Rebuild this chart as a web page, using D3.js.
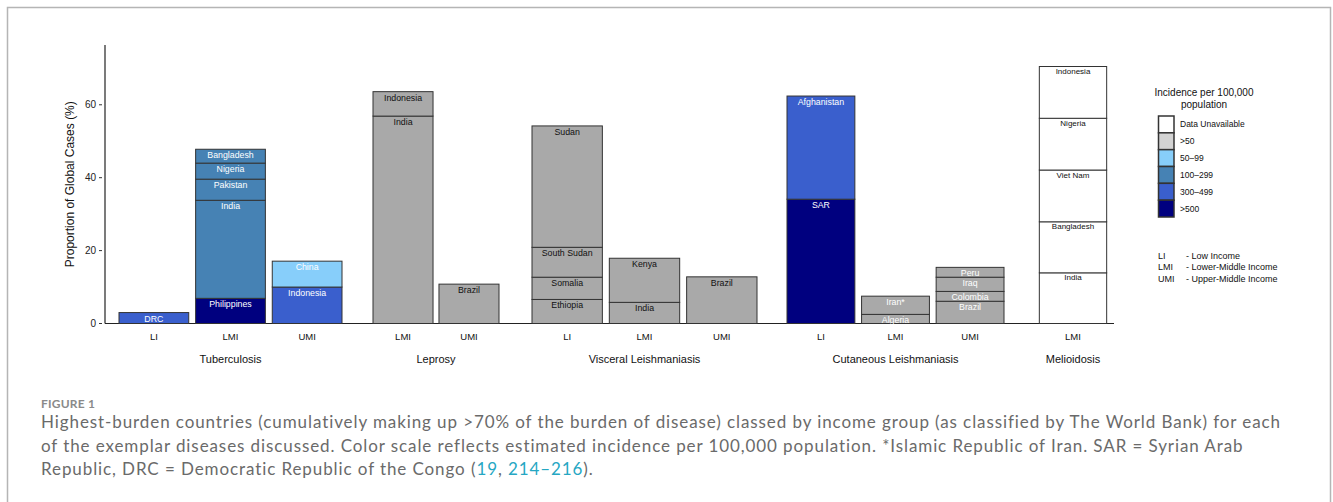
<!DOCTYPE html>
<html>
<head>
<meta charset="utf-8">
<script src="https://cdn.jsdelivr.net/npm/d3@7"></script>
<style>
  body { margin: 0; background: #fff; }
  svg { display: block; }
  .chart text { font-family: "Liberation Sans", Arial, sans-serif; }
  .chart .caption text { font-family: Lato, "Open Sans", sans-serif; }
</style>
</head>
<body>
<svg id="chart" class="chart"></svg>
<script>
// ---- data (shares of global cases, %, stacked bottom -> top) ----
const diseases = ["Tuberculosis", "Leprosy", "Visceral Leishmaniasis", "Cutaneous Leishmaniasis", "Melioidosis"];
const incomeGroups = [["LI", "LMI", "UMI"], ["LMI", "UMI"], ["LI", "LMI", "UMI"], ["LI", "LMI", "UMI"], ["LMI"]];

// [income, country, share, incidence band]
const tuberculosis = [
  ["LI", "DRC", 3.0, "300–499"],
  ["LMI", "Philippines", 6.9, ">500"],
  ["LMI", "India", 26.9, "100–299"],
  ["LMI", "Pakistan", 5.8, "100–299"],
  ["LMI", "Nigeria", 4.4, "100–299"],
  ["LMI", "Bangladesh", 3.8, "100–299"],
  ["UMI", "Indonesia", 10.0, "300–499"],
  ["UMI", "China", 7.1, "50–99"]
];
const leprosy = [
  ["LMI", "India", 56.9, ">50"],
  ["LMI", "Indonesia", 6.7, ">50"],
  ["UMI", "Brazil", 10.8, ">50"]
];
const visceral = [
  ["LI", "Ethiopia", 6.6, ">50"],
  ["LI", "Somalia", 6.1, ">50"],
  ["LI", "South Sudan", 8.2, ">50"],
  ["LI", "Sudan", 33.3, ">50"],
  ["LMI", "India", 5.8, ">50"],
  ["LMI", "Kenya", 12.1, ">50"],
  ["UMI", "Brazil", 12.8, ">50"]
];
const cutaneous = [
  ["LI", "SAR", 34.1, ">500"],
  ["LI", "Afghanistan", 28.3, "300–499"],
  ["LMI", "Algeria", 2.5, ">50"],
  ["LMI", "Iran*", 5.0, ">50"],
  ["UMI", "Brazil", 6.1, ">50"],
  ["UMI", "Colombia", 2.7, ">50"],
  ["UMI", "Iraq", 3.9, ">50"],
  ["UMI", "Peru", 2.7, ">50"]
];
const melioidosis = [
  ["LMI", "India", 13.9, "Data Unavailable"],
  ["LMI", "Bangladesh", 14.0, "Data Unavailable"],
  ["LMI", "Viet Nam", 14.2, "Data Unavailable"],
  ["LMI", "Nigeria", 14.2, "Data Unavailable"],
  ["LMI", "Indonesia", 14.2, "Data Unavailable"]
];
const diseaseSegments = [tuberculosis, leprosy, visceral, cutaneous, melioidosis];

const legendBands = ["Data Unavailable", ">50", "50–99", "100–299", "300–499", ">500"];
const yTicks = [0, 20, 40, 60];
const incomeNotes = [["LI", "- Low Income"], ["LMI", "- Lower-Middle Income"], ["UMI", "- Upper-Middle Income"]];

// ---- styles / layout ----
const bandFill = {
  "Data Unavailable": "#ffffff",
  ">50": "#a9a9a9",
  "50–99": "#87cefa",
  "100–299": "#4682b4",
  "300–499": "#3a5fcd",
  ">500": "#00007f"
};
const legendFill = Object.assign({}, bandFill, { ">50": "#d3d3d3" });

// pixel extent of each disease panel and label colour inside grey bars
const panels = [
  { x0: 119, x1: 342, label: "#fff" },
  { x0: 373, x1: 499, label: "#111" },
  { x0: 532, x1: 757, label: "#111" },
  { x0: 787, x1: 1004, label: "#fff" },
  { x0: 1036, x1: 1110, label: "#111" }
];

const W = 1333, H = 502;
const svg = d3.select("#chart").attr("width", W).attr("height", H);

// frame
svg.append("rect")
  .attr("x", 7.5).attr("y", 7.5)
  .attr("width", 1323).attr("height", 560)
  .attr("fill", "none").attr("stroke", "#b5b5b5").attr("stroke-width", 1.5);

const yScale = d3.scaleLinear().domain([0, 76.4]).range([323.5, 45]);

// y axis
const yAxisG = svg.append("g").attr("transform", "translate(105,0)");
yAxisG.append("line")
  .attr("y1", yScale(0)).attr("y2", yScale.range()[1])
  .attr("stroke", "#222").attr("stroke-width", 1.2);
const yt = yAxisG.selectAll(".ytick").data(yTicks).join("g")
  .attr("transform", d => `translate(0,${yScale(d)})`);
yt.append("line").attr("x1", -6).attr("x2", -3).attr("stroke", "#333");
yt.append("text")
  .attr("x", -9).attr("dy", "0.35em")
  .attr("text-anchor", "end")
  .attr("font-size", 10).attr("fill", "#222")
  .text(d => d);

svg.append("text")
  .attr("transform", `translate(74,${(yScale(0) + yScale.range()[1]) / 2}) rotate(-90)`)
  .attr("text-anchor", "middle")
  .attr("font-size", 12).attr("fill", "#111")
  .text("Proportion of Global Cases (%)");

// baseline
svg.append("line")
  .attr("x1", 105).attr("x2", 1114)
  .attr("y1", yScale(0)).attr("y2", yScale(0))
  .attr("stroke", "#222").attr("stroke-width", 1.2);

// bars
diseases.forEach((name, i) => {
  const p = panels[i];
  const x = d3.scaleBand().domain(incomeGroups[i]).range([p.x0, p.x1]).paddingInner(0.09);
  const g = svg.append("g");

  // stack per income group
  const tops = {};
  const segs = diseaseSegments[i].map(([inc, country, val, band]) => {
    const base = tops[inc] || 0;
    tops[inc] = base + val;
    return { inc, country, y0: base, y1: base + val, band };
  });

  g.selectAll("rect").data(segs).join("rect")
    .attr("x", d => x(d.inc))
    .attr("width", x.bandwidth())
    .attr("y", d => yScale(d.y1))
    .attr("height", d => yScale(d.y0) - yScale(d.y1))
    .attr("fill", d => bandFill[d.band])
    .attr("stroke", "#333").attr("stroke-width", 1);

  g.selectAll("text.seg").data(segs).join("text")
    .attr("class", "seg")
    .attr("x", d => x(d.inc) + x.bandwidth() / 2)
    .attr("y", d => yScale(d.y1) + (i === 4 ? 7.5 : 9))
    .attr("text-anchor", "middle")
    .attr("font-size", i === 4 ? 8 : 8.8)
    .attr("fill", d => (d.band === "Data Unavailable" || (d.band === ">50" && p.label !== "#fff")) ? "#111" : "#fff")
    .text(d => d.country);

  g.selectAll("text.inc").data(incomeGroups[i]).join("text")
    .attr("class", "inc")
    .attr("x", d => x(d) + x.bandwidth() / 2)
    .attr("y", 339.5)
    .attr("text-anchor", "middle")
    .attr("font-size", 9.5).attr("fill", "#111")
    .text(d => d);

  g.append("text")
    .attr("x", (p.x0 + p.x1) / 2)
    .attr("y", 363)
    .attr("text-anchor", "middle")
    .attr("font-size", 11).attr("fill", "#111")
    .text(name);
});

// legend
const lg = svg.append("g").attr("transform", "translate(1158,0)");
lg.append("text").attr("x", 46).attr("y", 95.5).attr("text-anchor", "middle")
  .attr("font-size", 10).attr("fill", "#111").text("Incidence per 100,000");
lg.append("text").attr("x", 46).attr("y", 107.5).attr("text-anchor", "middle")
  .attr("font-size", 10).attr("fill", "#111").text("population");
const ly = d3.scaleBand().domain(legendBands).range([116, 217]);
const li = lg.selectAll(".li").data(legendBands).join("g")
  .attr("transform", d => `translate(0,${ly(d)})`);
li.append("rect")
  .attr("x", 0.5).attr("width", 15.5).attr("height", ly.bandwidth())
  .attr("fill", d => legendFill[d])
  .attr("stroke", "#333").attr("stroke-width", 1.5);
li.append("text")
  .attr("x", 22).attr("y", ly.bandwidth() / 2).attr("dy", "0.35em")
  .attr("font-size", 8.5).attr("fill", "#111")
  .text(d => d);

const notes = svg.append("g").attr("transform", "translate(1158,0)");
notes.selectAll("g").data(incomeNotes).join("g")
  .attr("transform", (d, k) => `translate(0,${258.5 + k * 11.5})`)
  .each(function (d) {
    d3.select(this).append("text").attr("font-size", 9).attr("fill", "#111").text(d[0]);
    d3.select(this).append("text").attr("x", 28).attr("font-size", 9).attr("fill", "#111").text(d[1]);
  });

// caption
const capX = 41, capFs = 17;
const cap = svg.append("g").attr("class", "caption");
cap.append("text").attr("x", capX).attr("y", 408)
  .attr("font-size", 12).attr("font-weight", 700).attr("fill", "#8a8a8a")
  .attr("letter-spacing", 0.2)
  .text("FIGURE 1");
const capLines = [
  "Highest-burden countries (cumulatively making up >70% of the burden of disease) classed by income group (as classified by The World Bank) for each",
  "of the exemplar diseases discussed. Color scale reflects estimated incidence per 100,000 population. *Islamic Republic of Iran. SAR = Syrian Arab"
];
const capText = cap.selectAll("text.cl").data(capLines).join("text")
  .attr("class", "cl")
  .attr("x", capX).attr("y", (d, k) => 428 + k * 23.5)
  .attr("font-size", capFs).attr("fill", "#6a6a6a")
  .text(d => d);
// widen letter spacing so the first line spans the reference width
const w0 = capText.node().getComputedTextLength();
const ls = (1240 - w0) / capLines[0].length;
capText.attr("letter-spacing", ls);

const last = cap.append("text").attr("x", capX).attr("y", 428 + 2 * 23.5)
  .attr("font-size", capFs).attr("fill", "#6a6a6a").attr("letter-spacing", ls);
last.append("tspan").text("Republic, DRC = Democratic Republic of the Congo (");
last.append("tspan").attr("fill", "#26a7c3").text("19");
last.append("tspan").text(", ");
last.append("tspan").attr("fill", "#26a7c3").text("214–216");
last.append("tspan").text(").");
</script>
</body>
</html>
